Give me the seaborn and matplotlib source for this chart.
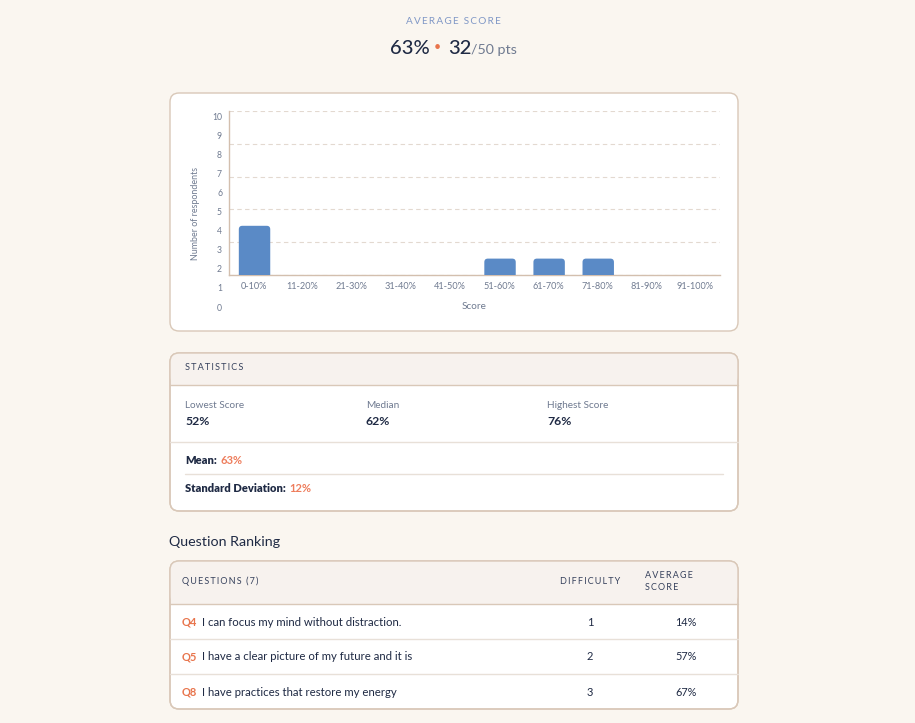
import matplotlib
matplotlib.use("Agg")
import matplotlib.pyplot as plt
from matplotlib.patches import FancyBboxPatch, Rectangle
from matplotlib.lines import Line2D
import seaborn as sns
import pandas as pd

# ---------------- data ----------------
score_bins = ["0-10%", "11-20%", "21-30%", "31-40%", "41-50%",
              "51-60%", "61-70%", "71-80%", "81-90%", "91-100%"]
respondents = [3, 0, 0, 0, 0, 1, 1, 1, 0, 0]
y_tick_values = [0, 1, 2, 3, 4, 5, 6, 7, 8, 9, 10]
grid_values = [0, 2, 4, 6, 8, 10]

avg_pct = "63%"
avg_pts = "32"
max_pts = "/50 pts"

stat_labels = ["Lowest Score", "Median", "Highest Score"]
stat_values = ["52%", "62%", "76%"]
mean_value = "63%"
std_value = "12%"

q_ids = ["Q4", "Q5", "Q8"]
q_texts = ["I can focus my mind without distraction.",
           "I have a clear picture of my future and it is",
           "I have practices that restore my energy"]
q_difficulty = ["1", "2", "3"]
q_avg_score = ["14%", "57%", "67%"]

# ---------------- style ----------------
sns.set_theme(style="white")
plt.rcParams['font.family'] = ['Lato', 'DejaVu Sans']

BG = "#FAF6F0"
CARD = "#FFFFFF"
BAND = "#F7F2EE"
BORDER = "#D9C8B8"
DARK = "#1F2A44"
MUTED = "#6F7A90"
BLUE_LABEL = "#7F97C6"
ORANGE = "#E8744C"
ORANGE_L = "#EE7D5C"
BAR = "#5A8AC6"
SEP = "#E8E0D8"
HEAD = "#36415C"

W, H = 915, 723
fig = plt.figure(figsize=(W / 100, H / 100), dpi=100)
fig.patch.set_facecolor(BG)


def fx(x):
    return x / W


def fy(y):
    return 1 - y / H


def spaced(s, sep="\u2009"):
    return sep.join(s)


def txt(x, y, s, **kw):
    kw.setdefault("va", "center")
    kw.setdefault("ha", "left")
    return fig.text(fx(x), fy(y), s, **kw)


def card(x0, y0, x1, y1, band_bottom=None):
    r = 9
    patch = FancyBboxPatch((fx(x0), fy(y1)), fx(x1 - x0), (y1 - y0) / H,
                           boxstyle=f"round,pad=0,rounding_size={r / W}",
                           mutation_aspect=W / H,
                           transform=fig.transFigure, facecolor=CARD,
                           edgecolor=BORDER, linewidth=1.0, zorder=0)
    fig.add_artist(patch)
    if band_bottom is not None:
        band = FancyBboxPatch((fx(x0), fy(band_bottom)), fx(x1 - x0), (band_bottom - y0) / H,
                              boxstyle=f"round,pad=0,rounding_size={r / W}",
                              mutation_aspect=W / H,
                              transform=fig.transFigure, facecolor=BAND,
                              edgecolor="none", zorder=0.5)
        fig.add_artist(band)
        fig.add_artist(Rectangle((fx(x0 + 0.6), fy(band_bottom)), fx(x1 - x0 - 1.2), 10 / H,
                                 transform=fig.transFigure, facecolor=BAND,
                                 edgecolor="none", zorder=0.6))
        fig.add_artist(Line2D([fx(x0), fx(x1)], [fy(band_bottom)] * 2,
                              transform=fig.transFigure, color=BORDER, lw=1.0, zorder=0.7))
        fig.add_artist(FancyBboxPatch((fx(x0), fy(y1)), fx(x1 - x0), (y1 - y0) / H,
                                      boxstyle=f"round,pad=0,rounding_size={r / W}",
                                      mutation_aspect=W / H,
                                      transform=fig.transFigure, facecolor="none",
                                      edgecolor=BORDER, linewidth=1.0, zorder=0.8))


# ---------------- header ----------------
txt(453, 22, spaced("AVERAGE SCORE"), ha="center", fontsize=7.2, color=BLUE_LABEL)
txt(390, 48, avg_pct, fontsize=14.5, color=DARK, fontweight="medium")
txt(434, 47, "\u2022", fontsize=9, color=ORANGE)
txt(448, 48, avg_pts, fontsize=14.5, color=DARK, fontweight="medium")
txt(471, 50, max_pts, fontsize=10.3, color=MUTED)

# ---------------- chart card ----------------
card(170, 93, 738, 331)

ax_l, ax_r, ax_t, ax_b = 229, 720, 111, 275
ax = fig.add_axes([fx(ax_l), fy(ax_b), fx(ax_r - ax_l), (ax_b - ax_t) / H])
ax.set_facecolor("none")
df = pd.DataFrame({"Score": score_bins, "Number of respondents": respondents})
sns.barplot(data=df, x="Score", y="Number of respondents", color=BAR,
            width=0.64, saturation=1, ax=ax, zorder=3)
ax.set_ylim(0, 10)
ax.set_xlim(-0.5, len(score_bins) - 0.5)

# rounded tops for bars
px_x = (ax_r - ax_l) / len(score_bins)
px_y = (ax_b - ax_t) / 10
rad_px = 3.5
for p in list(ax.patches):
    h = p.get_height()
    p.set_visible(False)
    if h <= 0:
        continue
    x0, w = p.get_x() + 0.02, p.get_width()
    rp = FancyBboxPatch((x0, -1), w, h + 1,
                        boxstyle=f"round,pad=0,rounding_size={rad_px / px_x}",
                        mutation_aspect=px_x / px_y,
                        facecolor=BAR, edgecolor="none", zorder=3, clip_on=True)
    ax.add_patch(rp)
    rp.set_clip_path(ax.patch)

ax.set_yticks(grid_values)
ax.set_yticklabels([])
ax.yaxis.grid(True, color="#E3D9D0", linestyle=(0, (4, 3)), linewidth=0.8)
ax.xaxis.grid(False)
ax.tick_params(axis="y", length=0)
ax.tick_params(axis="x", length=0, pad=5, labelsize=6.6, labelcolor=MUTED)
for s in ["top", "right"]:
    ax.spines[s].set_visible(False)
for s in ["left", "bottom"]:
    ax.spines[s].set_color("#D3BFAE")
    ax.spines[s].set_linewidth(1.0)
ax.set_xlabel("Score", fontsize=7.2, color=MUTED, labelpad=8)
ax.set_ylabel("")

# y tick labels (offset scale, as drawn in the reference)
ax2 = fig.add_axes([fx(222), fy(307), 1 / W, (307 - 116) / H])
ax2.set_facecolor("none")
ax2.set_ylim(0, 10)
ax2.set_yticks(y_tick_values)
ax2.set_yticklabels([str(v) for v in y_tick_values])
ax2.set_xticks([])
ax2.tick_params(axis="y", length=0, pad=0, labelsize=6.2, labelcolor=MUTED)
for s in ax2.spines.values():
    s.set_visible(False)

txt(195, 213, "Number of respondents", rotation=90, ha="center", fontsize=6.4, color=MUTED)

# ---------------- statistics card ----------------
card(170, 353, 738, 511, band_bottom=385)
txt(185, 368, spaced("STATISTICS"), fontsize=6.6, color=HEAD)
for xx, lab, val in zip([185, 366, 547], stat_labels, stat_values):
    txt(xx, 405, lab, fontsize=7.2, color=MUTED)
    txt(xx, 421, val, fontsize=8.8, color=DARK, fontweight="bold")
fig.add_artist(Line2D([fx(170), fx(738)], [fy(442)] * 2, transform=fig.transFigure,
                      color=SEP, lw=1.0))
fig.canvas.draw()
r = fig.canvas.get_renderer()
for yy, lab, val in [(461, "Mean:", mean_value), (488, "Standard Deviation:", std_value)]:
    t = txt(185, yy, lab, fontsize=8, color=DARK, fontweight="heavy")
    bb = t.get_window_extent(r)
    fig.text(bb.x1 / fig.bbox.width + 3.5 / W, fy(yy), val, fontsize=8, color=ORANGE_L,
             fontweight="bold", va="center", ha="left")
fig.add_artist(Line2D([fx(185), fx(723)], [fy(474)] * 2, transform=fig.transFigure,
                      color=SEP, lw=1.0))

# ---------------- question ranking ----------------
txt(169, 542, "Question Ranking", fontsize=10.3, color=DARK)
card(170, 561, 738, 709, band_bottom=604)
txt(182, 581, spaced("QUESTIONS (7)"), fontsize=6.5, color=HEAD)
txt(560, 581, spaced("DIFFICULTY"), fontsize=6.5, color=HEAD)
txt(645, 575, spaced("AVERAGE"), fontsize=6.5, color=HEAD)
txt(645, 587, spaced("SCORE"), fontsize=6.5, color=HEAD)

row_y = [622, 657, 692]
for i, (qid, qt, dif, sc) in enumerate(zip(q_ids, q_texts, q_difficulty, q_avg_score)):
    y = row_y[i]
    txt(182, y, qid, fontsize=8, color=ORANGE, fontweight="bold")
    txt(202, y, qt, fontsize=8.2, color=DARK)
    txt(590, y, dif, fontsize=8, color=DARK, ha="center")
    txt(686, y, sc, fontsize=7.8, color=DARK, ha="center")
    if i < len(row_y) - 1:
        fig.add_artist(Line2D([fx(170), fx(738)], [fy(y + 17)] * 2,
                              transform=fig.transFigure, color=SEP, lw=1.0))

fig.savefig("out.png", dpi=100, facecolor=BG)
